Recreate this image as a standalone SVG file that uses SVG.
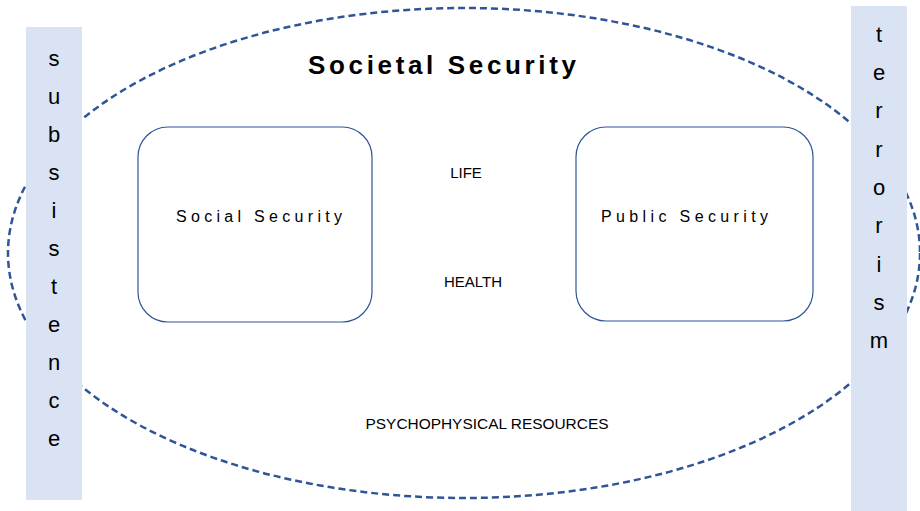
<svg xmlns="http://www.w3.org/2000/svg" width="920" height="511" viewBox="0 0 920 511">
<style>
.bar{fill:#DAE3F3;stroke:none}
.box{fill:#fff;stroke:#2F5597;stroke-width:1.2}
.t{font-family:"Liberation Sans","Open Sans",Arial,sans-serif;fill:#000}
.v{font-size:22px;text-anchor:middle}
.lab{font-size:16px}
.sm{font-size:15px;text-anchor:middle}
</style>
<g id="society">
<ellipse cx="464" cy="253" rx="456" ry="245" fill="none" stroke="#2F5597" stroke-width="2.5" stroke-dasharray="7,4"/>
<text class="t" x="308" y="74" font-size="26" font-weight="bold" textLength="268">Societal Security</text>
</g>
<g id="subsistence">
<rect class="bar" x="26" y="27" width="56" height="473"/>
<text class="t v"><tspan x="54" y="66">s</tspan><tspan x="54" y="104">u</tspan><tspan x="54" y="142">b</tspan><tspan x="54" y="180">s</tspan><tspan x="54" y="218">i</tspan><tspan x="54" y="256">s</tspan><tspan x="54" y="294">t</tspan><tspan x="54" y="332">e</tspan><tspan x="54" y="370">n</tspan><tspan x="54" y="408">c</tspan><tspan x="54" y="446">e</tspan></text>
</g>
<g id="terrorism">
<rect class="bar" x="851" y="6" width="56" height="505"/>
<text class="t v"><tspan x="879" y="42">t</tspan><tspan x="879" y="80">e</tspan><tspan x="879" y="118">r</tspan><tspan x="879" y="157">r</tspan><tspan x="879" y="195">o</tspan><tspan x="879" y="233">r</tspan><tspan x="879" y="272">i</tspan><tspan x="879" y="310">s</tspan><tspan x="879" y="348">m</tspan></text>
</g>
<g id="social">
<rect class="box" x="138" y="127" width="234" height="195" rx="30"/>
<text class="t lab" x="176" y="222" textLength="166">Social Security</text>
</g>
<g id="public">
<rect class="box" x="576" y="127" width="237" height="194" rx="30"/>
<text class="t lab" x="601" y="222" textLength="167">Public Security</text>
</g>
<g id="labels">
<text class="t sm" x="466" y="178">LIFE</text>
<text class="t sm" x="473" y="287">HEALTH</text>
<text class="t sm" x="487" y="429" font-size="16" textLength="243" lengthAdjust="spacingAndGlyphs">PSYCHOPHYSICAL RESOURCES</text>
</g>
<g id="connectors"></g>
</svg>
